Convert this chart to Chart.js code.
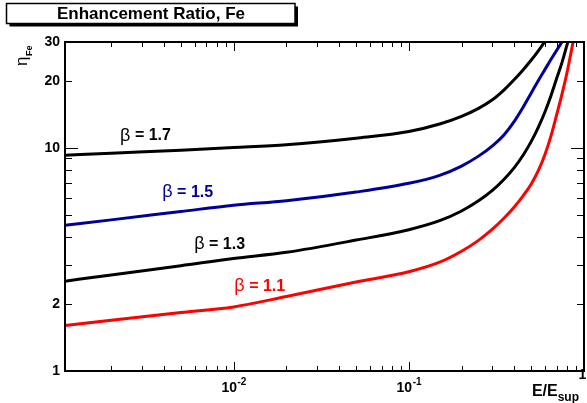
<!DOCTYPE html>
<html>
<head>
<meta charset="utf-8">
<script src="https://cdn.jsdelivr.net/npm/chart.js@4.4.1/dist/chart.umd.min.js"></script>
<style>
   html, body { margin: 0; padding: 0; background: #fff; }
   canvas { display: block; }
</style>
</head>
<body>
<canvas id="myChart" width="587" height="403" style="width:587px;height:403px"></canvas>
<script>
// enhancement ratio curves

// x = E/E_sup (shared grid)
let xValues = [0.00109, 0.002, 0.005, 0.01, 0.02, 0.05, 0.1, 0.15, 0.2, 0.25, 0.3, 0.35, 0.4, 0.45,
   0.5, 0.55, 0.6, 0.65, 0.7, 0.75, 0.8, 0.85, 0.9];

// eta_Fe for each beta (null = already off the top)
let beta17 = [9.30, 9.50, 9.80, 10.07, 10.37, 11.1, 11.89, 12.85, 13.9, 15.1, 16.5, 18.3, 20.35, 22.54,
   24.9, 27.47, 30.27, 33.5, null, null, null, null, null];
let beta15 = [4.51, 4.77, 5.20, 5.55, 5.81, 6.36, 6.96, 7.56, 8.32, 9.22, 10.26, 11.51, 13.21, 15.33,
   17.71, 20.22, 22.66, 25.15, 27.63, 30.1, 32.6, null, null];
let beta13 = [2.53, 2.70, 2.97, 3.20, 3.41, 3.87, 4.31, 4.73, 5.23, 5.81, 6.47, 7.26, 8.19, 9.33,
   10.74, 12.49, 14.63, 17.35, 20.71, 24.36, 29.1, 34.4, null];
let beta11 = [1.60, 1.69, 1.83, 1.94, 2.16, 2.51, 2.79, 3.08, 3.45, 3.86, 4.33, 4.86, 5.45, 6.13,
   6.91, 7.97, 9.43, 11.46, 14.26, 17.59, 21.88, 27.75, 35.3];

let seriesNames = ["1.7", "1.5", "1.3", "1.1"];
let seriesColors = ["#000000", "#000099", "#000000", "#ff0000"];
// where each "beta = ..." label sits, in data units (x, y)
let labelX = [0.00314, 0.00547, 0.00832, 0.0141];
let labelY = [11.4, 6.35, 3.71, 2.40];

// axis ticks
let xTicks = [0.002, 0.003, 0.004, 0.005, 0.006, 0.007, 0.008, 0.009,
   0.01, 0.02, 0.03, 0.04, 0.05, 0.06, 0.07, 0.08, 0.09,
   0.1, 0.2, 0.3, 0.4, 0.5, 0.6, 0.7, 0.8, 0.9, 1];
let xMajor = [0.01, 0.1, 1];
let xMajorExp = ["-2", "-1", ""];
let yTicks = [1, 2, 3, 4, 5, 6, 7, 8, 9, 10, 20, 30];
let yMajor = [1, 10];
let yTickLabels = [1, 2, 10, 20, 30];

let FONT = "'Liberation Sans', Arial, Helvetica, sans-serif";

function toPoints(ys) {
   let pts = [];
   ys.forEach((y, i) => {
      if (y !== null) pts.push({ x: xValues[i], y: y });
   });
   return pts;
}

let allSeries = [beta17, beta15, beta13, beta11];

// frame, inside ticks, x labels, titles
let rootStyle = {
   id: "rootStyle",
   afterDraw(chart) {
      let ctx = chart.ctx;
      let a = chart.chartArea;
      let xs = chart.scales.x;
      let ys = chart.scales.y;
      ctx.save();
      ctx.strokeStyle = "#000";
      ctx.fillStyle = "#000";

      // ticks on all four sides, pointing inward
      ctx.lineWidth = 1;
      ctx.beginPath();
      xTicks.forEach((v) => {
         let px = Math.round(xs.getPixelForValue(v)) + 0.5;
         let len = xMajor.includes(v) ? 9 : 5;
         ctx.moveTo(px, a.bottom);
         ctx.lineTo(px, a.bottom - len);
         ctx.moveTo(px, a.top);
         ctx.lineTo(px, a.top + len);
      });
      yTicks.forEach((v) => {
         let py = Math.round(ys.getPixelForValue(v)) + 0.5;
         let len = yMajor.includes(v) ? 13 : 7;
         ctx.moveTo(a.left, py);
         ctx.lineTo(a.left + len, py);
         ctx.moveTo(a.right, py);
         ctx.lineTo(a.right - len, py);
      });
      ctx.stroke();

      // frame
      ctx.lineWidth = 2;
      ctx.strokeRect(a.left, a.top, a.right - a.left, a.bottom - a.top);

      // x labels 10^-2, 10^-1, 1
      ctx.textBaseline = "alphabetic";
      xMajor.forEach((v, i) => {
         let px = xs.getPixelForValue(v);
         let exp = xMajorExp[i];
         if (exp === "") {
            ctx.font = "bold 14px " + FONT;
            ctx.textAlign = "center";
            ctx.fillText("1", Math.min(px, 582.5), 379);
            return;
         }
         ctx.font = "bold 14px " + FONT;
         let w1 = ctx.measureText("10").width;
         ctx.font = "bold 10px " + FONT;
         let w2 = ctx.measureText(exp).width;
         let x0 = px - (w1 + w2) / 2;
         ctx.textAlign = "left";
         ctx.font = "bold 14px " + FONT;
         ctx.fillText("10", x0, 392);
         ctx.font = "bold 10px " + FONT;
         ctx.fillText(exp, x0 + w1 + 0.5, 385);
      });

      // x title E/E_sup
      ctx.font = "bold 12px " + FONT;
      let wSub = ctx.measureText("sup").width;
      ctx.font = "bold 16px " + FONT;
      let wMain = ctx.measureText("E/E").width;
      let xEnd = 579;
      ctx.textAlign = "left";
      ctx.fillText("E/E", xEnd - wSub - wMain, 396);
      ctx.font = "bold 12px " + FONT;
      ctx.fillText("sup", xEnd - wSub, 401);

      // y title eta_Fe (rotated)
      ctx.save();
      ctx.translate(27, 66);
      ctx.rotate(-Math.PI / 2);
      ctx.textAlign = "left";
      ctx.font = "17px " + FONT;
      ctx.fillText("\u03b7", 0, 0);
      let wEta = ctx.measureText("\u03b7").width;
      ctx.font = "bold 9px " + FONT;
      ctx.fillText("Fe", wEta + 0.5, 5);
      ctx.restore();

      // beta labels on the curves
      ctx.textBaseline = "middle";
      seriesNames.forEach((name, i) => {
         let cx = xs.getPixelForValue(labelX[i]);
         let cy = ys.getPixelForValue(labelY[i]);
         ctx.fillStyle = seriesColors[i];
         ctx.font = "18px " + FONT;
         let wb = ctx.measureText("\u03b2").width;
         ctx.font = "bold 16px " + FONT;
         let rest = " = " + name;
         let wr = ctx.measureText(rest).width;
         let x0 = cx - (wb + wr) / 2;
         ctx.textAlign = "left";
         ctx.font = "18px " + FONT;
         ctx.fillText("\u03b2", x0, cy);
         ctx.font = "bold 16px " + FONT;
         ctx.fillText(rest, x0 + wb, cy);
      });

      // title box with shadow
      ctx.fillStyle = "#000";
      ctx.fillRect(9.5, 6.5, 288.5, 20);
      ctx.fillStyle = "#fff";
      ctx.fillRect(6.5, 3.5, 288.5, 20);
      ctx.lineWidth = 1.5;
      ctx.strokeStyle = "#000";
      ctx.strokeRect(6.5, 3.5, 288.5, 20);
      ctx.fillStyle = "#000";
      ctx.font = "bold 17px " + FONT;
      ctx.textAlign = "center";
      ctx.textBaseline = "middle";
      ctx.fillText("Enhancement Ratio, Fe", 151, 14);

      ctx.restore();
   },
};

new Chart("myChart", {
   type: "line",
   data: {
      datasets: allSeries.map((ys, i) => ({
         label: "beta = " + seriesNames[i],
         data: toPoints(ys),
         borderColor: seriesColors[i],
         borderWidth: 3,
         pointRadius: 0,
         fill: false,
         cubicInterpolationMode: "monotone",
         clip: 0,
      })),
   },
   options: {
      responsive: false,
      animation: false,
      events: [],
      layout: {
         padding: { left: 0, right: 3, top: 42, bottom: 0 },
      },
      plugins: {
         legend: { display: false },
         tooltip: { enabled: false },
         title: { display: false },
      },
      scales: {
         x: {
            type: "logarithmic",
            min: 0.00109,
            max: 1,
            grid: { display: false, drawTicks: false },
            border: { display: false },
            ticks: { display: false },
            afterBuildTicks: (s) => {
               s.ticks = xTicks.map((v) => ({ value: v }));
            },
            afterFit: (s) => {
               s.height = 32;
            },
         },
         y: {
            type: "logarithmic",
            min: 1,
            max: 30,
            grid: { display: false, drawTicks: false },
            border: { display: false },
            afterBuildTicks: (s) => {
               s.ticks = yTicks.map((v) => ({ value: v }));
            },
            ticks: {
               autoSkip: false,
               padding: 5,
               color: "#000",
               font: { family: FONT, size: 14, weight: "bold" },
               callback: (v) => (yTickLabels.includes(v) ? String(v) : ""),
            },
            afterFit: (s) => {
               s.width = 65;
            },
         },
      },
   },
   plugins: [rootStyle],
});
</script>
</body>
</html>
